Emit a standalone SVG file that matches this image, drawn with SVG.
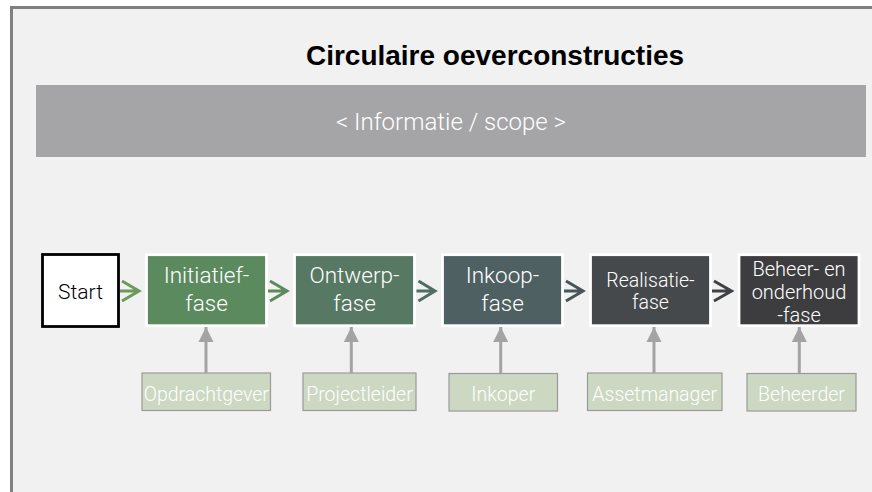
<svg xmlns="http://www.w3.org/2000/svg" width="872" height="492" viewBox="0 0 872 492">
<style>
.phase{stroke:#ffffff;stroke-width:2.8}
.ph{font-family:Roboto,"Liberation Sans",sans-serif;fill:#ffffff;text-anchor:middle;font-weight:300}
.role{fill:#ccd8c1;stroke:#9a9a9a;stroke-width:1.2}
.rt{font-family:Roboto,"Liberation Sans",sans-serif;fill:#ffffff;font-size:19.5px;text-anchor:middle;font-weight:300}
.flow{fill:none;stroke-width:3;stroke-linejoin:miter}
.up{stroke:#a3a3a3;stroke-width:3;fill:none}
</style>
<defs>
<marker id="tri" markerUnits="userSpaceOnUse" markerWidth="16" markerHeight="16" viewBox="0 0 16 16" refX="15" refY="8" orient="auto">
<path d="M0,0.5 L15,8 L0,15.5 Z" fill="#a3a3a3"/>
</marker>
</defs>
<rect x="0" y="0" width="872" height="492" fill="#ffffff"/>
<rect x="11.5" y="7.5" width="880" height="500" fill="#f1f1f1" stroke="#808080" stroke-width="3"/>
<text x="495" y="65" font-family="'Liberation Sans',Arial,sans-serif" font-weight="bold" font-size="28" text-anchor="middle" fill="#000000">Circulaire oeverconstructies</text>
<g id="info">
<rect x="36" y="85" width="830" height="72" fill="#a5a5a7"/>
<text x="451" y="130" class="ph" font-size="24">&lt; Informatie / scope &gt;</text>
</g>
<g id="start">
<rect x="42.5" y="254.5" width="76" height="72" fill="#ffffff" stroke="#000000" stroke-width="2.8"/>
<text x="80.5" y="299" font-family="Roboto,'Liberation Sans',sans-serif" font-size="21" fill="#000000" text-anchor="middle" font-weight="300">Start</text>
</g>
<g id="initiatief">
<rect class="phase" x="146.5" y="254.7" width="120" height="71" fill="#5c8a5f"/>
<text class="ph" font-size="22.5"><tspan x="206.5" y="283">Initiatief-</tspan><tspan x="206.5" y="311">fase</tspan></text>
</g>
<g id="ontwerp">
<rect class="phase" x="294.5" y="254.7" width="120" height="71" fill="#577863"/>
<text class="ph" font-size="22.5"><tspan x="354.5" y="283">Ontwerp-</tspan><tspan x="354.5" y="311">fase</tspan></text>
</g>
<g id="inkoop">
<rect class="phase" x="442.5" y="254.7" width="120" height="71" fill="#4e6062"/>
<text class="ph" font-size="22.5"><tspan x="502.5" y="283">Inkoop-</tspan><tspan x="502.5" y="311">fase</tspan></text>
</g>
<g id="realisatie">
<rect class="phase" x="590.5" y="254.7" width="120" height="71" fill="#46494c"/>
<text class="ph" font-size="19.5"><tspan x="650.5" y="287">Realisatie-</tspan><tspan x="650.5" y="309">fase</tspan></text>
</g>
<g id="beheer">
<rect class="phase" x="739" y="254.7" width="120" height="71" fill="#3d3d3f"/>
<text class="ph" font-size="20"><tspan x="799" y="276">Beheer- en</tspan><tspan x="799" y="299">onderhoud</tspan><tspan x="799" y="322">-fase</tspan></text>
</g>
<g id="opdrachtgever">
<rect class="role" x="142" y="373" width="128.5" height="37.5"/>
<text class="rt" x="206.3" y="401">Opdrachtgever</text>
</g>
<g id="projectleider">
<rect class="role" x="303" y="373" width="113" height="37.5"/>
<text class="rt" x="359.5" y="401">Projectleider</text>
</g>
<g id="inkoper">
<rect class="role" x="449" y="373.5" width="108.5" height="37.5"/>
<text class="rt" x="503.3" y="401">Inkoper</text>
</g>
<g id="assetmanager">
<rect class="role" x="587.5" y="373" width="134.5" height="37.5"/>
<text class="rt" x="654.7" y="401">Assetmanager</text>
</g>
<g id="beheerder">
<rect class="role" x="747" y="373.5" width="109" height="37.5"/>
<text class="rt" x="801.5" y="401">Beheerder</text>
</g>
<g id="connectors">
<path class="flow" stroke="#6a9a5c" d="M120,291 H139 M122,281 L139,291 L122,301"/>
<path class="flow" stroke="#5a8a5e" d="M268,291 H287 M270,281 L287,291 L270,301"/>
<path class="flow" stroke="#4f6e62" d="M416.5,291 H435 M418.5,281 L435,291 L418.5,301"/>
<path class="flow" stroke="#475558" d="M564,291 H583 M566,281 L583,291 L566,301"/>
<path class="flow" stroke="#3f4244" d="M712,291 H731.5 M714,281 L731.5,291 L714,301"/>
<path class="up" d="M206,373 V327" marker-end="url(#tri)"/>
<path class="up" d="M351.3,373 V327" marker-end="url(#tri)"/>
<path class="up" d="M500.7,373 V327" marker-end="url(#tri)"/>
<path class="up" d="M654,373 V327" marker-end="url(#tri)"/>
<path class="up" d="M799.3,373 V327" marker-end="url(#tri)"/>
</g>
</svg>
